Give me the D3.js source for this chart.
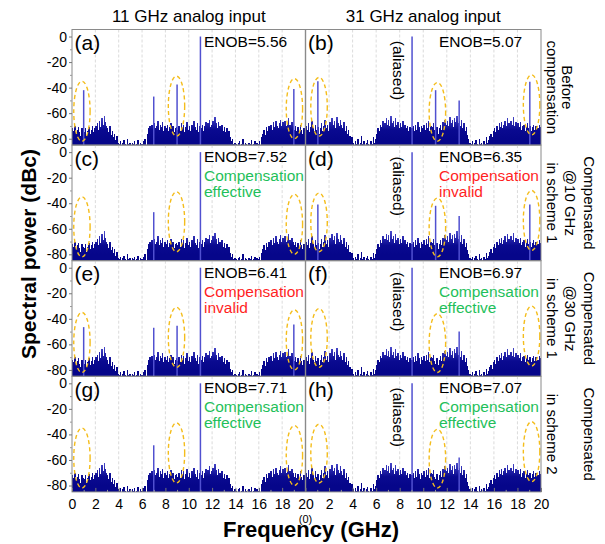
<!DOCTYPE html>
<html>
<head>
<meta charset="utf-8">
<script src="https://cdn.jsdelivr.net/npm/d3@7"></script>
<style>
  body { margin: 0; background: #fff; }
  svg text { font-family: "Liberation Sans", Arial, sans-serif; }
</style>
</head>
<body>
<div id="chart"></div>
<script>
// Noise floor, one value per 0.1 GHz bin (dBc) (a) and (b)
var binWidth = 0.1;
var noise11 = [
  -72,-74,-70,-76,-73,-71,-75,-78,-72,-74,
  -75,-72,-78,-74,-71,-76,-73,-70,-75,-72,
  -70,-68,-73,-66,-71,-64,-69,-62,-67,-70,
  -72,-75,-70,-77,-74,-79,-76,-81,-78,-83,
  -84,-82,-85,-83,-81,-84,-85,-80,-84,-83,
  -85,-83,-84,-82,-85,-84,-81,-85,-83,-84,
  -84,-82,-80,-85,-76,-72,-70,-73,-69,-71,
  -68,-72,-70,-66,-73,-69,-71,-67,-74,-70,
  -72,-69,-74,-71,-68,-73,-70,-75,-72,-71,
  -73,-70,-74,-68,-72,-69,-75,-71,-67,-73,
  -70,-74,-69,-72,-66,-71,-73,-68,-75,-70,
  -72,-69,-74,-70,-67,-72,-68,-65,-71,-69,
  -66,-70,-63,-68,-72,-67,-70,-73,-69,-74,
  -71,-75,-72,-77,-74,-79,-82,-80,-84,-83,
  -84,-85,-83,-82,-85,-84,-80,-85,-83,-84,
  -85,-83,-84,-81,-85,-84,-82,-85,-83,-84,
  -82,-85,-79,-76,-73,-77,-71,-74,-70,-72,
  -69,-73,-67,-71,-66,-70,-72,-68,-65,-70,
  -67,-71,-66,-70,-68,-64,-69,-72,-67,-70,
  -73,-70,-74,-71,-75,-69,-73,-76,-72,-74
];
var noise31 = [
  -70,-73,-68,-75,-71,-66,-72,-74,-69,-73,
  -71,-76,-72,-68,-74,-70,-65,-72,-69,-74,
  -67,-71,-64,-69,-66,-72,-63,-68,-70,-65,
  -69,-72,-67,-74,-70,-76,-73,-78,-81,-79,
  -83,-85,-82,-84,-80,-85,-83,-78,-84,-82,
  -85,-83,-81,-84,-85,-82,-84,-79,-83,-80,
  -76,-72,-74,-69,-71,-66,-70,-68,-64,-69,
  -65,-70,-62,-68,-66,-71,-64,-69,-67,-72,
  -68,-71,-66,-73,-69,-72,-70,-74,-71,-73,
  -72,-70,-74,-69,-73,-67,-71,-75,-70,-72,
  -69,-73,-68,-72,-66,-74,-70,-71,-68,-73,
  -75,-71,-76,-72,-69,-73,-67,-70,-65,-69,
  -66,-70,-63,-68,-65,-71,-64,-67,-62,-68,
  -66,-70,-65,-72,-68,-74,-71,-77,-80,-83,
  -84,-82,-85,-83,-81,-84,-85,-80,-84,-83,
  -85,-82,-84,-79,-83,-81,-78,-76,-79,-74,
  -72,-75,-70,-73,-68,-71,-67,-72,-69,-66,
  -70,-64,-68,-71,-66,-69,-63,-70,-67,-72,
  -68,-71,-67,-73,-70,-69,-74,-71,-68,-72,
  -70,-74,-71,-69,-73,-70,-75,-72,-69,-71
];

// Panels in reading order (a)..(h)
var panelNames = ['(a)', '(b)', '(c)', '(d)', '(e)', '(f)', '(g)', '(h)'];
var enob = [5.56, 5.07, 7.52, 6.35, 6.41, 6.97, 7.71, 7.07];
var verdict = ['', '', 'effective', 'invalid', 'invalid', 'effective', 'effective', 'effective'];

// Tones and spurs [GHz, dBc]
var spurs = [
  [[1.0, -42], [7.0, -47], [9.0, -37.5], [11.0, 0], [19.0, -41]],
  [[1.05, -35], [9.05, 0], [11.05, -42], [13.05, -50], [19.05, -35.5]],
  [[7.0, -47], [11.0, 0]],
  [[1.05, -41], [9.05, 0], [11.05, -42], [13.05, -50], [19.05, -41]],
  [[1.0, -46.5], [7.0, -47], [9.0, -45.5], [11.0, 0], [19.0, -44.5]],
  [[9.05, 0], [13.05, -50]],
  [[7.0, -48.5], [11.0, 0]],
  [[9.05, 0], [13.05, -58]]
];

// Dashed rings around the interleaving spurs [center GHz, top dBc, bottom dBc]
var rings11 = [[0.85, -35, -82], [8.95, -31, -78], [19.05, -33, -80]];
var rings31 = [[1.15, -32, -78], [11.2, -36, -82], [19.2, -30, -77]];

var columnTitles = ['11 GHz analog input', '31 GHz analog input'];
var rowLabels = [
  ['Before', 'compensation'],
  ['Compensated', '@10 GHz', 'in scheme 1'],
  ['Compensated', '@30 GHz', 'in scheme 1'],
  ['Compensated', '', 'in scheme 2']
];
var xTicks = [0, 2, 4, 6, 8, 10, 12, 14, 16, 18, 20];
var xMinor = [1, 3, 5, 7, 9, 11, 13, 15, 17, 19];
var yTicks = [0, -20, -40, -60, -80];
var yMinor = [-10, -30, -50, -70];

// Layout
var W = 605, H = 544;
var plotLeft = 72, plotMid = 305.5, plotRight = 541;
var plotTop = 29.5, rowH = 115.6;
var spurBlue = '#5050d0', ringGold = '#f4bd1c';
var green = '#1fbf5a', red = '#ff1f1f';

var svg = d3.select('#chart')
            .append('svg')
            .attr('width', W)
            .attr('height', H);
var defs = svg.append('defs');

var xs = [
  d3.scaleLinear().domain([0, 20]).range([plotLeft, plotMid]),
  d3.scaleLinear().domain([0, 20]).range([plotMid, plotRight])
];

// Column titles
columnTitles.forEach(function (t, c) {
  svg.append('text')
     .attr('x', (xs[c].range()[0] + xs[c].range()[1]) / 2)
     .attr('y', 22)
     .attr('text-anchor', 'middle')
     .attr('font-size', 17)
     .text(t);
});

for (var r = 0; r < 4; r++) {
  var rowTop = plotTop + r * rowH;
  var y = d3.scaleLinear().domain([-85, 5.5]).range([rowTop + rowH, rowTop]);

  // noise shading: dense body dark, ragged tips lighter
  var grad = defs.append('linearGradient')
                 .attr('id', 'noiseFill' + r)
                 .attr('gradientUnits', 'userSpaceOnUse')
                 .attr('x1', 0).attr('x2', 0)
                 .attr('y1', y(-60)).attr('y2', y(-80));
  grad.append('stop').attr('offset', '0%').attr('stop-color', '#5a5ad6');
  grad.append('stop').attr('offset', '35%').attr('stop-color', '#2a2ab0');
  grad.append('stop').attr('offset', '65%').attr('stop-color', '#0a0a90');
  grad.append('stop').attr('offset', '100%').attr('stop-color', '#06068a');

  for (var c = 0; c < 2; c++) {
    var p = r * 2 + c;
    var x = xs[c];
    var g = svg.append('g').attr('class', 'panel');
    var noise = c === 0 ? noise11 : noise31;
    var rings = c === 0 ? rings11 : rings31;

    // dashed grid
    g.selectAll('.grid')
     .data(xTicks.slice(1, -1))
     .enter()
     .append('line')
     .attr('x1', function (d) { return x(d); })
     .attr('x2', function (d) { return x(d); })
     .attr('y1', rowTop)
     .attr('y2', rowTop + rowH)
     .attr('stroke', '#d2d2d2')
     .attr('stroke-width', 0.8)
     .attr('stroke-dasharray', '3,2');

    // noise bars
    var bw = x(binWidth) - x(0);
    g.append('g')
     .attr('shape-rendering', 'crispEdges')
     .selectAll('rect')
     .data(noise)
     .enter()
     .append('rect')
     .attr('x', function (d, i) { return x(i * binWidth); })
     .attr('width', bw + 0.3)
     .attr('y', function (d) { return y(d); })
     .attr('height', function (d) { return y(-85) - y(d); })
     .attr('fill', 'url(#noiseFill' + r + ')');

    // tones / spurs
    g.selectAll('.spur')
     .data(spurs[p])
     .enter()
     .append('line')
     .attr('x1', function (d) { return x(d[0]); })
     .attr('x2', function (d) { return x(d[0]); })
     .attr('y1', y(-85))
     .attr('y2', function (d) { return y(d[1]); })
     .attr('stroke', spurBlue)
     .attr('stroke-width', 1.5);

    // rings
    g.selectAll('.ring')
     .data(rings)
     .enter()
     .append('ellipse')
     .attr('cx', function (d) { return x(d[0]); })
     .attr('cy', function (d) { return y((d[1] + d[2]) / 2); })
     .attr('rx', x(0.7) - x(0))
     .attr('ry', function (d) { return (y(d[2]) - y(d[1])) / 2; })
     .attr('fill', 'none')
     .attr('stroke', ringGold)
     .attr('stroke-width', 1.4)
     .attr('stroke-dasharray', '4,3');

    // panel letter
    g.append('text')
     .attr('x', x(0) + 2.5)
     .attr('y', rowTop + 20.5)
     .attr('font-size', 21)
     .text(panelNames[p]);

    // ENOB and verdict
    var tx = c === 0 ? 204 : 439;
    g.append('text')
     .attr('x', tx)
     .attr('y', rowTop + 17)
     .attr('font-size', 15.5)
     .text('ENOB=' + enob[p].toFixed(2));
    if (verdict[p]) {
      var col = verdict[p] === 'effective' ? green : red;
      g.append('text')
       .attr('x', tx)
       .attr('y', rowTop + 36)
       .attr('font-size', 15.5)
       .attr('fill', col)
       .text('Compensation');
      g.append('text')
       .attr('x', tx)
       .attr('y', rowTop + 52)
       .attr('font-size', 15.5)
       .attr('fill', col)
       .text(verdict[p]);
    }

    if (c === 1) {
      g.append('text')
       .attr('transform', 'translate(398,' + (rowTop + 41) + ') rotate(90)')
       .attr('text-anchor', 'middle')
       .attr('dominant-baseline', 'central')
       .attr('font-size', 15.5)
       .text('(aliased)');
    }
  }

  // frame
  svg.append('rect')
     .attr('x', plotLeft)
     .attr('y', rowTop)
     .attr('width', plotRight - plotLeft)
     .attr('height', rowH)
     .attr('fill', 'none')
     .attr('stroke', '#8a8a8a')
     .attr('stroke-width', 1);
  svg.append('line')
     .attr('x1', plotMid).attr('x2', plotMid)
     .attr('y1', rowTop).attr('y2', rowTop + rowH)
     .attr('stroke', '#8a8a8a')
     .attr('stroke-width', 1.4);

  // y axis
  var ya = svg.append('g')
              .attr('transform', 'translate(' + plotLeft + ',0)')
              .call(d3.axisLeft(y).tickValues(yTicks).tickSize(3).tickPadding(2)
                      .tickFormat(function (d) { return String(d); }));
  ya.select('.domain').remove();
  ya.selectAll('text').attr('font-size', 14).attr('font-family', null);
  ya.selectAll('line').attr('stroke', '#777');
  var ym = svg.append('g')
              .attr('transform', 'translate(' + plotLeft + ',0)')
              .call(d3.axisLeft(y).tickValues(yMinor).tickSize(2).tickFormat(''));
  ym.select('.domain').remove();
  ym.selectAll('line').attr('stroke', '#999');

  // row label on the right
  var lines = rowLabels[r];
  var lx = lines.length === 2 ? [567, 552] : [589, 570, 552];
  lines.forEach(function (t, i) {
    svg.append('text')
       .attr('transform', 'translate(' + lx[i] + ',' + (rowTop + rowH / 2) + ') rotate(90)')
       .attr('text-anchor', 'middle')
       .attr('dominant-baseline', 'central')
       .attr('font-size', 15)
       .text(t);
  });
}

// x axes
var plotBottom = plotTop + 4 * rowH;
xs.forEach(function (x, c) {
  var ax = svg.append('g')
              .attr('transform', 'translate(0,' + plotBottom + ')')
              .call(d3.axisBottom(x).tickValues(c === 0 ? xTicks : xTicks.slice(1))
                      .tickSizeInner(-4).tickSizeOuter(0).tickPadding(7));
  ax.select('.domain').remove();
  ax.selectAll('text').attr('font-size', 14).attr('font-family', null);
  ax.selectAll('line').attr('stroke', '#777');
  var am = svg.append('g')
              .attr('transform', 'translate(0,' + plotBottom + ')')
              .call(d3.axisBottom(x).tickValues(xMinor).tickSizeInner(-2).tickSizeOuter(0).tickFormat(''));
  am.select('.domain').remove();
  am.selectAll('line').attr('stroke', '#999');
});

svg.append('text')
   .attr('x', plotMid)
   .attr('y', 523)
   .attr('text-anchor', 'middle')
   .attr('font-size', 11)
   .text('(0)');

// axis titles
svg.append('text')
   .attr('x', 311)
   .attr('y', 537)
   .attr('text-anchor', 'middle')
   .attr('font-size', 22)
   .attr('font-weight', 'bold')
   .text('Frequency (GHz)');
svg.append('text')
   .attr('transform', 'translate(28,254) rotate(-90)')
   .attr('text-anchor', 'middle')
   .attr('dominant-baseline', 'central')
   .attr('font-size', 21)
   .attr('font-weight', 'bold')
   .text('Spectral power (dBc)');
</script>
</body>
</html>
